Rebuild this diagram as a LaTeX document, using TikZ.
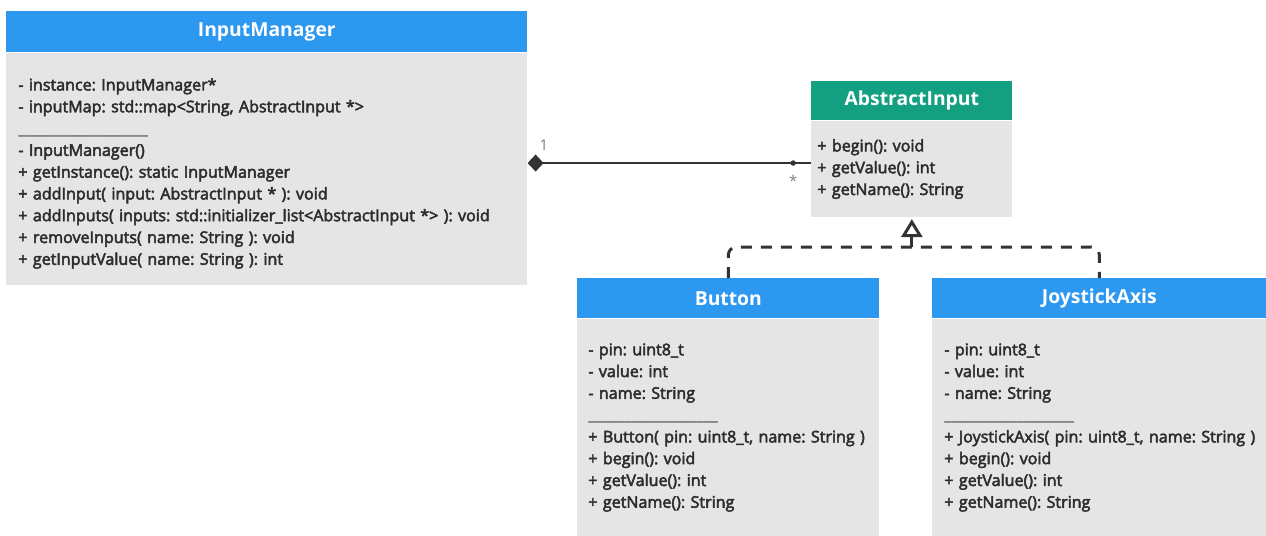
\documentclass[tikz,border=0pt]{standalone}
\usepackage{fontspec}
\setmainfont{Open Sans}
\newfontfamily\bodyfont{Open Sans}[FakeBold=3]
\usetikzlibrary{positioning, arrows.meta}
\definecolor{hdrblue}{RGB}{45,152,240}
\definecolor{hdrgreen}{RGB}{18,160,128}
\definecolor{bodygray}{RGB}{229,229,229}
\definecolor{linegray}{RGB}{51,51,51}
\definecolor{txtgray}{RGB}{45,45,45}
\newcommand*{\sepline}[1]{{\normalfont\color{darkgray}\foreach \i in {1,...,#1}{\_}}}
\frenchspacing

\tikzset{
  classhead/.style={fill=#1, text=white, font=\fontsize{11}{13}\selectfont\bfseries, minimum height=0.8cm, inner sep=0pt, anchor=north west},
  members/.style={fill=bodygray, text=txtgray, font=\bodyfont\fontsize{9.15}{12.4}\selectfont, align=left, inner ysep=0pt},
  link/.style={draw=linegray, line width=1.1pt},
  genline/.style={draw=linegray, line width=1.7pt},
}

\begin{document}
\begin{tikzpicture}[x=0.02cm, y=-0.02cm]
\useasboundingbox (0,0) rectangle (1266,535);

% InputManager
\node (IMhead) [classhead=hdrblue, minimum width=10.42cm, minimum height=0.82cm] at (6,11) {InputManager};
\node (IMbody) [members, minimum width=10.42cm, minimum height=4.64cm, text width=9.94cm, inner xsep=0.24cm, below=0cm of IMhead] {%
\rule{0pt}{12pt}- instance: InputManager*\\
- inputMap: std::map<String, AbstractInput *>\\
\sepline{18}\\
- InputManager()\\
+ getInstance(): static InputManager\\
+ addInput( input: AbstractInput * ): void\\
+ addInputs( inputs: std::initializer\_list<AbstractInput *> ): void\\
+ removeInputs( name: String ): void\\
+ getInputValue( name: String ): int};

% AbstractInput
\node (AIhead) [classhead=hdrgreen, minimum width=4.02cm, minimum height=0.78cm] at (811,81) {AbstractInput};
\node (AIbody) [members, minimum width=4.02cm, minimum height=1.92cm, text width=3.78cm, inner xsep=0.12cm, below=0cm of AIhead] {%
+ begin(): void\\
+ getValue(): int\\
+ getName(): String};

% Button
\node (BThead) [classhead=hdrblue, minimum width=6.04cm] at (577,278) {Button};
\node (BTbody) [members, minimum width=6.04cm, minimum height=4.34cm, text width=5.6cm, inner xsep=0.22cm, below=0cm of BThead] {%
- pin: uint8\_t\\
- value: int\\
- name: String\\
\sepline{18}\\
+ Button( pin: uint8\_t, name: String )\\
+ begin(): void\\
+ getValue(): int\\
+ getName(): String};

% JoystickAxis
\node (JAhead) [classhead=hdrblue, minimum width=6.68cm] at (932,278) {JoystickAxis};
\node (JAbody) [members, minimum width=6.68cm, minimum height=4.34cm, text width=6.2cm, inner xsep=0.24cm, below=0cm of JAhead] {%
- pin: uint8\_t\\
- value: int\\
- name: String\\
\sepline{18}\\
\makebox[\linewidth][l]{+ JoystickAxis( pin: uint8\_t, name: String )}\\
+ begin(): void\\
+ getValue(): int\\
+ getName(): String};

% composition
\coordinate (AIport) at ([yshift=0.12cm]AIbody.west);
\draw [link, {Diamond[length=0.32cm, width=0.34cm]}-] (IMbody.east |- AIport) -- (AIport)
  node [pos=0, above right, text=gray, font=\fontsize{8.5}{9}\selectfont, xshift=3pt, yshift=3pt] (one) {1}
  node [pos=0.937, circle, fill=linegray, inner sep=1.1pt] (tick) {}
  node [pos=0.937, below, text=gray, font=\fontsize{8.5}{9}\selectfont, yshift=-3pt] (many) {*};

% generalization
\coordinate (genjoin) at (AIbody.south |- 0,247);
\draw [genline, dash pattern=on 0.22cm off 0.18cm, rounded corners=0.16cm] (BThead.north) |- (genjoin) -| (JAhead.north);
\draw [genline, -{Triangle[open, length=0.36cm, width=0.42cm]}, shorten >=1pt] (genjoin) -- (AIbody.south);

\end{tikzpicture}
\end{document}
